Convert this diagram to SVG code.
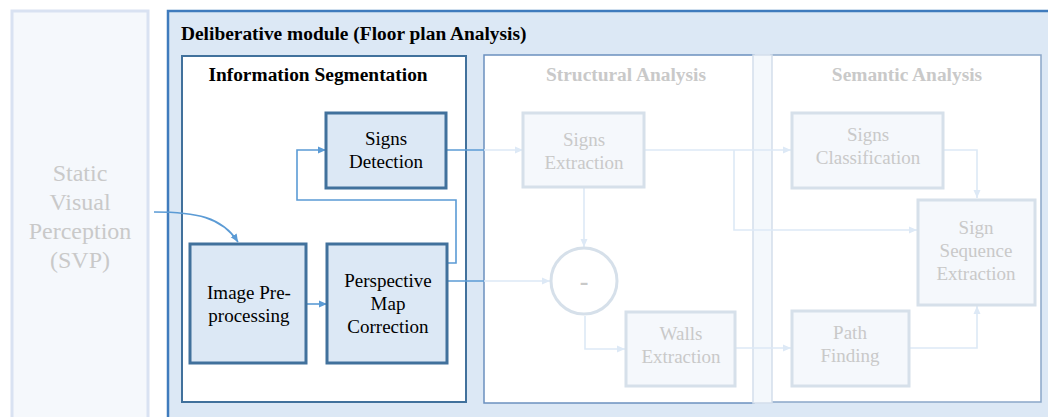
<svg xmlns="http://www.w3.org/2000/svg" width="1048" height="417" viewBox="0 0 1048 417">
<defs>
<style>
.t{font-family:"Liberation Serif","Times New Roman",serif;text-anchor:middle}
.b{font-weight:bold}
.dark{fill:#000}
.fade{fill:#c9c9c9}
.nodeA{fill:#dce8f5;stroke:#41719c;stroke-width:3}
.nodeF{fill:#f5f8fc;stroke:#d6e0ea;stroke-width:3}
.cb{fill:none;stroke:#5b9bd5;stroke-width:1.6}
.cf{fill:none;stroke:#dde9f6;stroke-width:1.6}
</style>
<marker id="ab" viewBox="0 0 8 8" refX="8" refY="4" markerWidth="8" markerHeight="8" markerUnits="userSpaceOnUse" orient="auto"><path d="M0,0.5 L8,4 L0,7.5 z" fill="#5b9bd5"/></marker>
<marker id="af" viewBox="0 0 8 8" refX="8" refY="4" markerWidth="8" markerHeight="8" markerUnits="userSpaceOnUse" orient="auto"><path d="M0,0.5 L8,4 L0,7.5 z" fill="#dde9f6"/></marker>
</defs>
<rect width="1048" height="417" fill="#fff"/>

<g id="svp">
<rect x="12" y="11" width="136" height="420" fill="#f5f8fc" stroke="#d9e2f2" stroke-width="3"/>
<text class="t fade" font-size="24"><tspan x="80" y="181">Static</tspan><tspan x="80" y="210">Visual</tspan><tspan x="80" y="239">Perception</tspan><tspan x="80" y="268">(SVP)</tspan></text>
</g>

<g id="deliberative">
<rect x="168" y="11" width="900" height="420" fill="#dce8f5" stroke="#3f7bbd" stroke-width="2.5"/>
<text x="181" y="40" class="t b dark" font-size="19.4" style="text-anchor:start">Deliberative module (Floor plan Analysis)</text>
</g>

<g id="info-seg">
<rect x="182" y="56" width="284" height="346" fill="#fff" stroke="#41719c" stroke-width="2"/>
<text x="318" y="81" class="t b dark" font-size="19.4">Information Segmentation</text>
</g>

<g id="structural">
<rect x="484" y="55" width="270" height="348" fill="#fff" stroke="#6b90bf" stroke-width="1.5"/>
<text x="626" y="81" class="t b fade" font-size="19.4">Structural Analysis</text>
</g>

<g id="semantic">
<rect x="771" y="55" width="270" height="347" fill="#fff" stroke="#8aa6c8" stroke-width="1.5"/>
<text x="907" y="81" class="t b fade" font-size="19.4">Semantic Analysis</text>
</g>

<g id="band">
<rect x="753" y="55" width="19" height="348" fill="#f4f8fc" stroke="#d3deeb" stroke-width="1.5"/>
</g>

<g id="connectors">
<path class="cb" d="M154,212 C196,212 222,217 238,242" marker-end="url(#ab)"/>
<path class="cb" d="M306,304 H327" marker-end="url(#ab)"/>
<path class="cb" d="M447,263 H456 V200 H297 V150 H326" marker-end="url(#ab)"/>
<path class="cb" d="M446,150 H484"/>
<path class="cf" d="M484,150 H523" marker-end="url(#af)"/>
<path class="cb" d="M447,281 H484"/>
<path class="cf" d="M484,281 H550" marker-end="url(#af)"/>
<path class="cf" d="M584,188 V247" marker-end="url(#af)"/>
<path class="cf" d="M585,316 V349 H625" marker-end="url(#af)"/>
<path class="cf" d="M645,150 H791" marker-end="url(#af)"/>
<path class="cf" d="M734,150 V230 H917" marker-end="url(#af)"/>
<path class="cf" d="M944,150 H977 V198" marker-end="url(#af)"/>
<path class="cf" d="M736,348 H791" marker-end="url(#af)"/>
<path class="cf" d="M910,348 H977 V306" marker-end="url(#af)"/>
</g>

<g id="signs-detection">
<rect class="nodeA" x="326" y="113" width="120" height="75"/>
<text class="t dark" font-size="19"><tspan x="386" y="145">Signs</tspan><tspan x="386" y="168">Detection</tspan></text>
</g>

<g id="image-preprocessing">
<rect class="nodeA" x="190" y="244" width="116" height="119"/>
<text class="t dark" font-size="19"><tspan x="249" y="299">Image Pre-</tspan><tspan x="249" y="322">processing</tspan></text>
</g>

<g id="perspective">
<rect class="nodeA" x="327" y="244" width="120" height="119"/>
<text class="t dark" font-size="19"><tspan x="388" y="287">Perspective</tspan><tspan x="388" y="310">Map</tspan><tspan x="388" y="333">Correction</tspan></text>
</g>

<g id="signs-extraction">
<rect class="nodeF" x="523" y="113" width="121" height="74"/>
<text class="t fade" font-size="19"><tspan x="584" y="146">Signs</tspan><tspan x="584" y="169">Extraction</tspan></text>
</g>

<g id="subtract">
<circle cx="584" cy="281" r="33" fill="#fff" stroke="#d6e0ea" stroke-width="3"/>
<text x="584" y="290" class="t b fade" font-size="26">-</text>
</g>

<g id="walls-extraction">
<rect class="nodeF" x="626" y="312" width="109" height="74"/>
<text class="t fade" font-size="19"><tspan x="681" y="340">Walls</tspan><tspan x="681" y="363">Extraction</tspan></text>
</g>

<g id="signs-classification">
<rect class="nodeF" x="792" y="113" width="151" height="75"/>
<text class="t fade" font-size="19"><tspan x="868" y="141">Signs</tspan><tspan x="868" y="164">Classification</tspan></text>
</g>

<g id="sign-sequence">
<rect class="nodeF" x="918" y="200" width="117" height="105"/>
<text class="t fade" font-size="19"><tspan x="976" y="234">Sign</tspan><tspan x="976" y="257">Sequence</tspan><tspan x="976" y="280">Extraction</tspan></text>
</g>

<g id="path-finding">
<rect class="nodeF" x="792" y="311" width="117" height="75"/>
<text class="t fade" font-size="19"><tspan x="850" y="339">Path</tspan><tspan x="850" y="362">Finding</tspan></text>
</g>
</svg>
